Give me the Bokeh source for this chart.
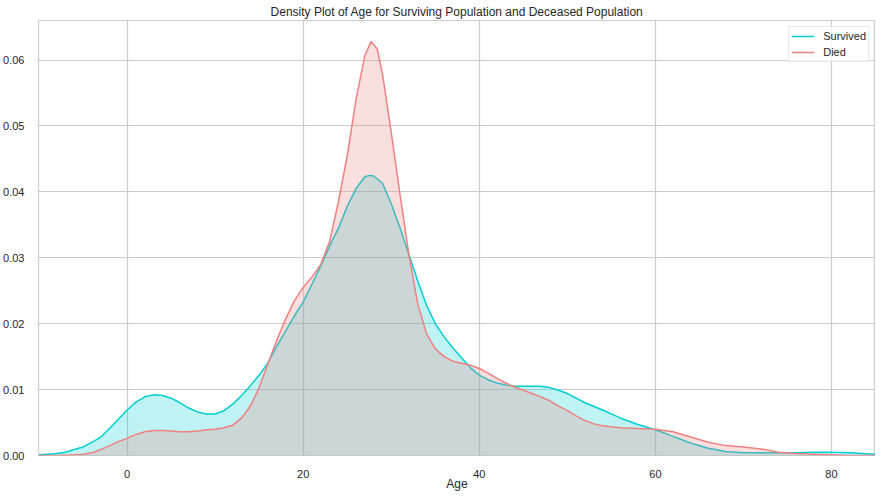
from bokeh.plotting import figure
from bokeh.embed import file_html
from bokeh.resources import INLINE
from bokeh.models import NumeralTickFormatter, FixedTicker, Range1d

# Data
surv_x = [-10, -9, -8, -7, -6, -5, -4, -3, -2, -1, 0, 1, 2, 3, 4, 5, 6, 7, 8, 9, 10,
          11, 12, 13, 14, 15, 16, 17, 18, 19, 20, 21, 22, 23, 24, 25, 26, 27, 27.5, 28,
          29, 30, 31, 32, 33, 34, 35, 36, 37, 38, 39, 40, 41, 42, 43, 44, 45, 46, 47, 48,
          49, 50, 52, 54, 56, 58, 60, 62, 64, 66, 68, 70, 72, 74, 76, 78, 80, 82, 85]
surv_y = [0.0001, 0.0002, 0.0003, 0.0005, 0.0009, 0.0013, 0.0020, 0.0028, 0.0041, 0.0055,
          0.0069, 0.0081, 0.0089, 0.0092, 0.0091, 0.0087, 0.0080, 0.0072, 0.0066, 0.0063,
          0.0063, 0.0068, 0.0078, 0.0091, 0.0106, 0.0122, 0.0141, 0.0166, 0.0189, 0.0212,
          0.0233, 0.0260, 0.0288, 0.0318, 0.0345, 0.0378, 0.0405, 0.0423, 0.0425, 0.0424,
          0.0413, 0.0382, 0.0345, 0.0305, 0.0265, 0.0228, 0.0200, 0.0180, 0.0163, 0.0148,
          0.0133, 0.0122, 0.0115, 0.0110, 0.0107, 0.0105, 0.0105, 0.0105, 0.0105, 0.0103,
          0.0099, 0.0094, 0.0080, 0.0069, 0.0057, 0.0047, 0.0039, 0.0029, 0.0019, 0.0011,
          0.0006, 0.0004, 0.0004, 0.0004, 0.0004, 0.0005, 0.0005, 0.0004, 0.0002]

died_x = [-10, -8, -6, -5, -4, -3, -2, -1, 0, 1, 2, 3, 4, 5, 6, 7, 8, 9, 10, 11, 12,
          13, 14, 15, 16, 17, 18, 19, 20, 21, 22, 23, 24, 25, 26, 27, 27.7, 28.4, 29, 30,
          31, 32, 33, 34, 35, 36, 37, 38, 39, 40, 41, 42, 43, 44, 45, 46, 47, 48, 49, 50,
          51, 52, 53, 54, 56, 58, 60, 62, 64, 66, 68, 70, 72, 74, 76, 78, 80, 82, 85]
died_y = [0.0, 0.0, 0.0001, 0.0002, 0.0004, 0.0009, 0.0015, 0.0021, 0.0026, 0.0032,
          0.0036, 0.0038, 0.0038, 0.0037, 0.0036, 0.0036, 0.0037, 0.0039, 0.0040, 0.0042,
          0.0046, 0.0057, 0.0075, 0.0103, 0.0140, 0.0175, 0.0207, 0.0235, 0.0255, 0.0271,
          0.0290, 0.0325, 0.0385, 0.0455, 0.0540, 0.0607, 0.0628, 0.0617, 0.0579, 0.0490,
          0.0395, 0.0305, 0.0230, 0.0185, 0.0162, 0.0150, 0.0143, 0.0140, 0.0137, 0.0132,
          0.0125, 0.0117, 0.0110, 0.0104, 0.0099, 0.0094, 0.0089, 0.0083, 0.0075, 0.0068,
          0.0060, 0.0053, 0.0048, 0.0045, 0.0042, 0.0041, 0.0040, 0.0036, 0.0028, 0.0020,
          0.0015, 0.0013, 0.0010, 0.0005, 0.0003, 0.0002, 0.0001, 0.0, 0.0]

x_ticks = [0, 20, 40, 60, 80]
y_ticks = [0.0, 0.01, 0.02, 0.03, 0.04, 0.05, 0.06]

CYAN = "#00ced1"
RED = "#f08080"
TXT = "#262626"
GRID = "#cccccc"
FONT = "Liberation Sans"

p = figure(frame_width=837, frame_height=435, output_backend="svg", toolbar_location=None,
           title="Density Plot of Age for Surviving Population and Deceased Population",
           x_range=Range1d(-10.07, 85.0), y_range=Range1d(0, 0.066),
           min_border_left=30, min_border_right=0, min_border_top=12, min_border_bottom=0)

p.varea(x=surv_x, y1=0, y2=surv_y, fill_color=CYAN, fill_alpha=0.25)
p.line(surv_x, surv_y, line_color=CYAN, line_width=1.5, legend_label="Survived")
p.varea(x=died_x, y1=0, y2=died_y, fill_color=RED, fill_alpha=0.25)
p.line(died_x, died_y, line_color=RED, line_width=1.5, legend_label="Died")

p.title.align = "center"
p.title.text_font = FONT
p.title.text_font_size = "12px"
p.title.text_font_style = "normal"
p.title.text_color = TXT
p.title.standoff = 4
p.title.offset = 0

p.outline_line_color = GRID
p.outline_line_width = 1.2

for ax in (p.xaxis[0], p.yaxis[0]):
    ax.axis_line_color = None
    ax.major_tick_line_color = None
    ax.minor_tick_line_color = None
    ax.major_label_text_font = FONT
    ax.major_label_text_font_size = "11px"
    ax.major_label_text_color = TXT
    ax.major_label_standoff = 8

p.xaxis.ticker = FixedTicker(ticks=x_ticks)
p.yaxis.ticker = FixedTicker(ticks=y_ticks)
p.yaxis.formatter = NumeralTickFormatter(format="0.00")
p.xaxis.axis_label = "Age"
p.xaxis.axis_label_text_font = FONT
p.xaxis.axis_label_text_font_size = "12px"
p.xaxis.axis_label_text_font_style = "normal"
p.xaxis.axis_label_text_color = TXT
p.xaxis.axis_label_standoff = -4

p.xgrid.grid_line_color = GRID
p.ygrid.grid_line_color = GRID
p.xgrid.grid_line_width = 1.2
p.ygrid.grid_line_width = 1.2

lg = p.legend[0]
lg.location = "top_right"
lg.margin = 6
lg.padding = 2
lg.spacing = 2
lg.glyph_width = 23
lg.glyph_height = 14
lg.label_height = 14
lg.label_standoff = 9
lg.label_text_font = FONT
lg.label_text_font_size = "11px"
lg.label_text_color = TXT
lg.border_line_color = GRID
lg.border_line_width = 1
lg.background_fill_alpha = 0.8

open("out.html", "w").write(file_html(p, INLINE))
